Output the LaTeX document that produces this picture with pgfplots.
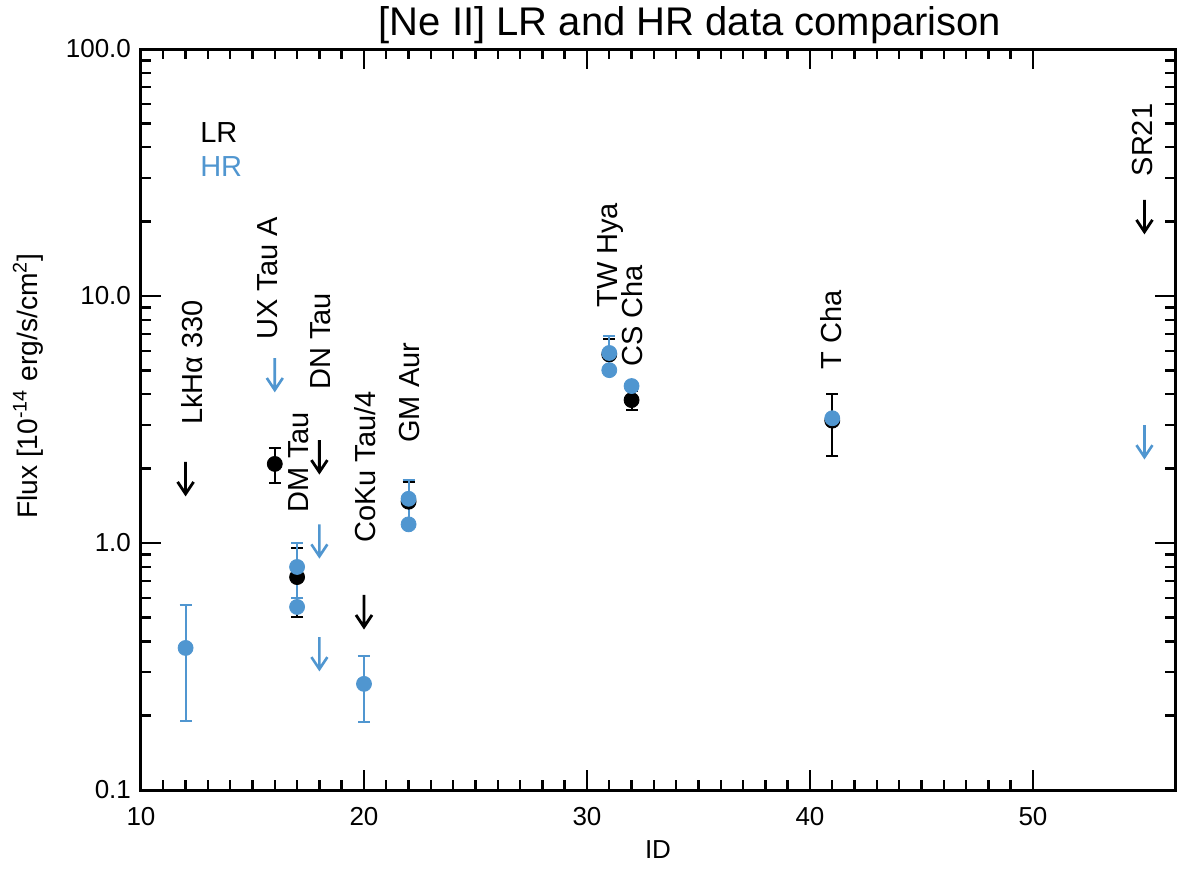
\documentclass[border=0pt]{standalone}
\usepackage{fontspec}
\setmainfont{Liberation Sans}
\usepackage{pgfplots}
\pgfplotsset{compat=1.18}
\definecolor{hrblue}{RGB}{80,150,208}
\pgfdeclareplotmark{ularrow}{%
  \pgfpathmoveto{\pgfqpoint{0pt}{0pt}}%
  \pgfpathlineto{\pgfqpoint{0pt}{-16pt}}%
  \pgfpathmoveto{\pgfqpoint{-4pt}{-10pt}}%
  \pgfpathlineto{\pgfqpoint{0pt}{-16pt}}%
  \pgfpathlineto{\pgfqpoint{4pt}{-10pt}}%
  \pgfusepathqstroke}
\newcommand{\lblfont}{\fontsize{14.5}{17}\selectfont}
\begin{document}
\begin{tikzpicture}
\begin{axis}[name=ax, scale only axis, width=517pt, height=370.5pt,
  xmin=10, xmax=56.37, ymode=log, ymin=0.1, ymax=100,
  axis line style={line width=1.5pt},
  every tick/.style={black, line width=1.2pt},
  major tick length=10pt, minor tick length=5pt,
  xtick={10,20,30,40,50}, xticklabels={10,20,30,40,50}, minor x tick num=9,
  ytick={0.1,1,10,100}, yticklabels={0.1,1.0,10.0,100.0},
  minor ytick={0.2,0.3,0.4,0.5,0.6,0.7,0.8,0.9,2,3,4,5,6,7,8,9,20,30,40,50,60,70,80,90},
  /pgf/number format/assume math mode=true,
  tick label style={font=\fontsize{13}{15}\selectfont},
  xticklabel style={yshift=-5pt},
  yticklabel style={xshift=-1.5pt},
  title={[Ne II] LR and HR data comparison},
  title style={font=\fontsize{20}{23}\selectfont, at={(axis description cs:0.531,1.0162)}, anchor=center},
  xlabel={ID},
  xlabel style={font=\fontsize{13}{15}\selectfont, at={(axis description cs:0.5,-0.081)}, anchor=center},
  ylabel={Flux [10\textsuperscript{-14} erg/s/cm\textsuperscript{2}]},
  ylabel style={font=\fontsize{14.1}{16}\selectfont, at={(axis description cs:-0.1093,0.545)}, anchor=center},
  error bars/error bar style={line width=1pt},
  error bars/error mark options={rotate=90, line width=1pt, mark size=3pt},
]
% LR detections
\addplot+[black, only marks, mark=*, mark size=3.75pt, mark options={black, fill=black},
  error bars/.cd, y dir=both, y explicit] coordinates {
  (16,2.09) +- (0,0.34)
  (17,0.728) +- (0,0.225)
  (22,1.47) +- (0,0.29)
  (31,5.8) +- (0,0.9)
  (32,3.79) +- (0,0.34)
  (41,3.13) +- (0,0.88)
};
% LR upper limits
\addplot+[black, only marks, mark=ularrow, mark options={black, line width=1.4pt}] coordinates {
  (12,2.13) (18,2.61) (20,0.616) (55,24.5)
};
% HR detections with errors
\addplot+[hrblue, only marks, mark=*, mark size=3.75pt, mark options={hrblue, fill=hrblue},
  error bars/.cd, y dir=both, y explicit] coordinates {
  (12,0.376) +- (0,0.185)
  (17,0.80) +- (0,0.2)
  (20,0.269) +- (0,0.08)
  (22,1.51) +- (0,0.29)
  (31,5.88) +- (0,1.03)
};
% HR detections without errors
\addplot+[hrblue, only marks, mark=*, mark size=3.75pt, mark options={hrblue, fill=hrblue}] coordinates {
  (17,0.551) (22,1.19) (31,5.01) (32,4.32) (41,3.20)
};
% HR upper limits
\addplot+[hrblue, only marks, mark=ularrow, mark options={hrblue, line width=1.3pt}] coordinates {
  (16,5.61) (18,1.19) (18,0.416) (55,3.0)
};
% labels
\node[rotate=90, anchor=west, inner sep=0pt, font=\lblfont] at (axis cs:12.28,3.0) {LkHα 330};
\node[rotate=90, anchor=west, inner sep=0pt, font=\lblfont] at (axis cs:15.69,6.63) {UX Tau A};
\node[rotate=90, anchor=west, inner sep=0pt, font=\lblfont] at (axis cs:18.06,4.16) {DN Tau};
\node[rotate=90, anchor=west, inner sep=0pt, font=\lblfont] at (axis cs:17.07,1.33) {DM Tau};
\node[rotate=90, anchor=west, inner sep=0pt, font=\lblfont] at (axis cs:20.07,1.0) {CoKu Tau/4};
\node[rotate=90, anchor=west, inner sep=0pt, font=\lblfont] at (axis cs:22.04,2.54) {GM Aur};
\node[rotate=90, anchor=west, inner sep=0pt, font=\lblfont] at (axis cs:31.04,8.94) {TW Hya};
\node[rotate=90, anchor=west, inner sep=0pt, font=\lblfont] at (axis cs:32.02,5.16) {CS Cha};
\node[rotate=90, anchor=west, inner sep=0pt, font=\lblfont] at (axis cs:40.93,5.02) {T Cha};
\node[rotate=90, anchor=west, inner sep=0pt, font=\lblfont] at (axis cs:54.9,30.4) {SR21};
% legend text
\node[anchor=west, inner sep=0pt, font=\lblfont, text=black] at (axis cs:12.64,46.1) {LR};
\node[anchor=west, inner sep=0pt, font=\lblfont, text=hrblue] at (axis cs:12.64,33.3) {HR};
\end{axis}
\pgfresetboundingbox
\path ([shift={(-70.5pt,-39pt)}]ax.south west) rectangle ([shift={(6pt,24.5pt)}]ax.north east);
\end{tikzpicture}
\end{document}
